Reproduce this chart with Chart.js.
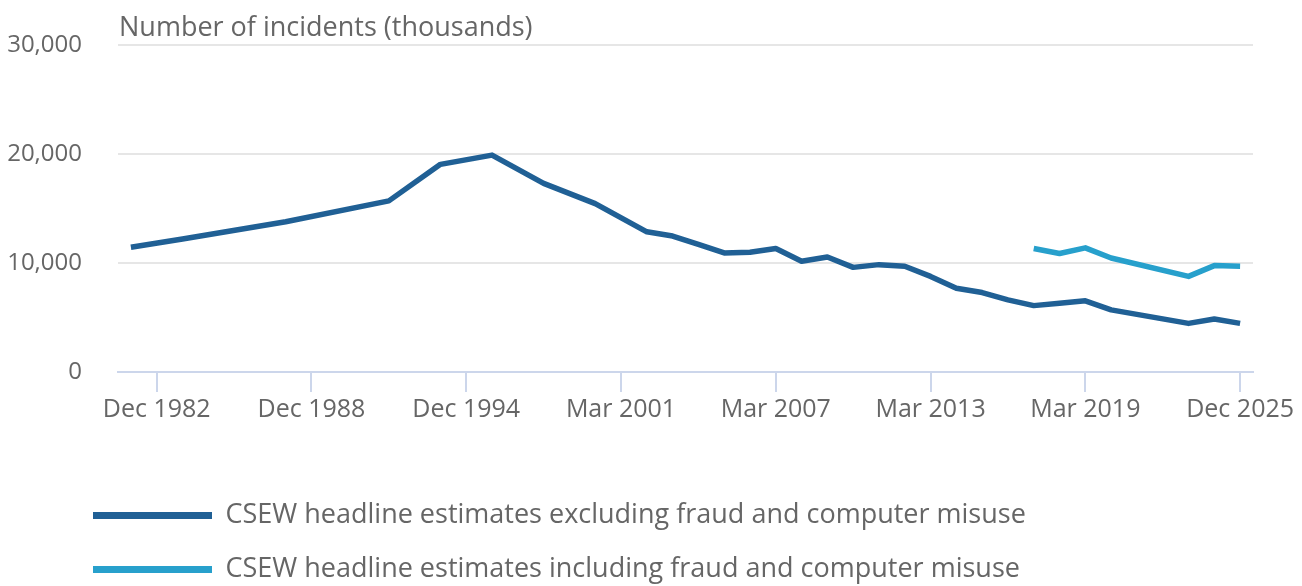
<!DOCTYPE html>
<html>
<head>
<meta charset="utf-8">
<title>CSEW headline estimates</title>
<script src="https://cdn.jsdelivr.net/npm/chart.js@4.4.1/dist/chart.umd.min.js"></script>
<style>
  html, body { margin: 0; padding: 0; background: #fff; }
  #wrap { width: 1302px; height: 586px; }
</style>
</head>
<body>
<div id="wrap"><canvas id="crimeChart"></canvas></div>
<script>
// survey periods, one slot per year (financial years from 2001)
const periods = [
  'Dec 1981', 'Dec 1982', 'Dec 1983', 'Dec 1984', 'Dec 1985', 'Dec 1986', 'Dec 1987',
  'Dec 1988', 'Dec 1989', 'Dec 1990', 'Dec 1991', 'Dec 1992', 'Dec 1993', 'Dec 1994',
  'Dec 1995', 'Dec 1996', 'Dec 1997', 'Dec 1998', 'Dec 1999',
  'Mar 2001', 'Mar 2002', 'Mar 2003', 'Mar 2004', 'Mar 2005', 'Mar 2006', 'Mar 2007',
  'Mar 2008', 'Mar 2009', 'Mar 2010', 'Mar 2011', 'Mar 2012', 'Mar 2013', 'Mar 2014',
  'Mar 2015', 'Mar 2016', 'Mar 2017', 'Mar 2018', 'Mar 2019', 'Mar 2020', 'Mar 2021',
  'Mar 2022', 'Mar 2023', 'Mar 2024', 'Dec 2025'
];

// thousands of incidents, null where no survey
const excludingFraud = [
  11450, null, 12200, null, null, null, 13790,
  null, null, null, 15700, null, 19050, null,
  19900, null, 17300, null, 15450,
  null, 12860, 12470, 11700, 10920, 10990, 11330,
  10160, 10550, 9600, 9850, 9700, 8770, 7690,
  7290, 6620, 6090, 6310, 6530, 5700, null,
  null, 4460, 4870, 4460
];

const includingFraud = [
  null, null, null, null, null, null, null,
  null, null, null, null, null, null, null,
  null, null, null, null, null,
  null, null, null, null, null, null, null,
  null, null, null, null, null, null, null,
  null, null, 11330, 10870, 11390, 10460, null,
  null, 8770, 9760, 9700
];

const seriesNames = [
  'CSEW headline estimates excluding fraud and computer misuse',
  'CSEW headline estimates including fraud and computer misuse'
];
const yTitle = 'Number of incidents (thousands)';
const yMax = 30000;
const yStep = 10000;
const labelEvery = 6;

Chart.defaults.font.family = '"Open Sans", sans-serif';
Chart.defaults.color = '#666';

// axis title above the plot + nudge legend to the left edge used by the original
const titleAndLegend = {
  id: 'titleAndLegend',
  afterLayout(chart) {
    chart.legend.left = 66;
    chart.legend.top += 7;
    chart.legend.bottom += 7;
  },
  afterDraw(chart) {
    const ctx = chart.ctx;
    ctx.save();
    ctx.font = '27px "Open Sans"';
    ctx.fillStyle = '#666';
    ctx.textBaseline = 'alphabetic';
    ctx.fillText(yTitle, chart.chartArea.left + 1, 36);
    ctx.restore();
  }
};

const ctx = document.getElementById('crimeChart').getContext('2d');
const chart = new Chart(ctx, {
  type: 'line',
  data: {
    labels: periods,
    datasets: [
      {
        label: seriesNames[0],
        data: excludingFraud,
        borderColor: '#206095',
        backgroundColor: '#206095'
      },
      {
        label: seriesNames[1],
        data: includingFraud,
        borderColor: '#27a0cc',
        backgroundColor: '#27a0cc'
      }
    ]
  },
  options: {
    responsive: true,
    maintainAspectRatio: false,
    animation: false,
    events: [],
    spanGaps: true,
    elements: {
      line: { borderWidth: 5.5, tension: 0, borderJoinStyle: 'round' },
      point: { radius: 0 }
    },
    layout: { padding: { top: 45, right: 49, bottom: 0, left: 0 } },
    scales: {
      x: {
        offset: true,
        afterFit: (s) => { s.height = 96; s.paddingLeft = 0; s.paddingRight = 0; },
        grid: {
          offset: false,
          drawOnChartArea: false,
          drawTicks: true,
          tickLength: 20,
          color: '#ccd6eb',
          lineWidth: 2
        },
        border: { color: '#ccd6eb', width: 2 },
        ticks: {
          autoSkip: false,
          maxRotation: 0,
          padding: 3,
          font: { size: 25 },
          color: '#666',
          callback: (v, i) => (i % labelEvery === 1 ? periods[i] : null)
        }
      },
      y: {
        min: 0,
        max: yMax,
        afterFit: (s) => { s.width = 118; s.paddingTop = 0; s.paddingBottom = 0; },
        grid: { color: '#e6e6e6', lineWidth: 2, drawTicks: false },
        border: { display: false },
        ticks: {
          stepSize: yStep,
          padding: 36,
          font: { size: 24 },
          color: '#666',
          callback: (v) => v.toLocaleString('en-GB')
        }
      }
    },
    plugins: {
      tooltip: { enabled: false },
      legend: {
        position: 'bottom',
        align: 'start',
        labels: {
          boxWidth: 119,
          boxHeight: 7,
          padding: 27,
          font: { size: 27 },
          color: '#666',
          generateLabels: (c) => Chart.defaults.plugins.legend.labels.generateLabels(c)
            .map((item) => Object.assign(item, { lineWidth: 0 }))
        }
      }
    }
  },
  plugins: [titleAndLegend]
});
</script>
</body>
</html>
